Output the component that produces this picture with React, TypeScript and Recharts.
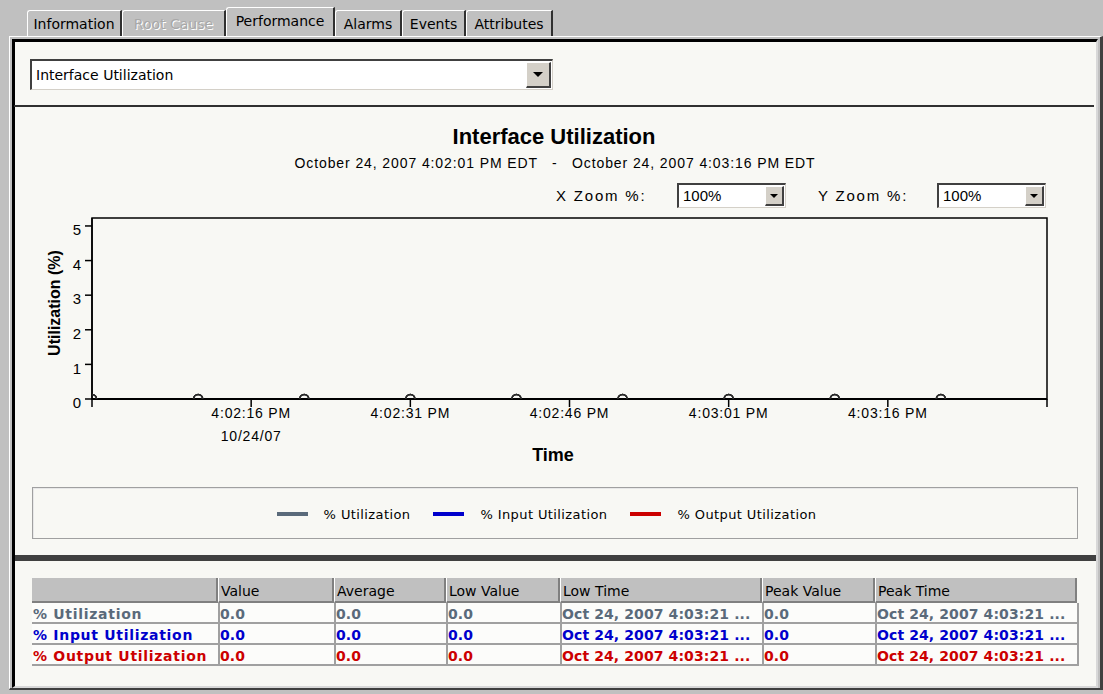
import React from "react";
import { LineChart, Line, XAxis, YAxis, ReferenceArea } from "recharts";

// ---------- data ----------
const sampleTimes = ["16:02:01", "16:02:11", "16:02:21", "16:02:31", "16:02:41", "16:02:51", "16:03:01", "16:03:11", "16:03:21"];
const utilization = [0, 0, 0, 0, 0, 0, 0, 0, 0];
const inputUtilization = [0, 0, 0, 0, 0, 0, 0, 0, 0];
const outputUtilization = [0, 0, 0, 0, 0, 0, 0, 0, 0];

const seriesNames = ["% Utilization", "% Input Utilization", "% Output Utilization"];
const seriesKeys = ["util", "inp", "out"];
const seriesColors = ["#5a6a7a", "#0000cc", "#cc0000"];

const xTickTimes = ["16:02:01", "16:02:16", "16:02:31", "16:02:46", "16:03:01", "16:03:16", "16:03:31"];
const xTickLabels = ["", "4:02:16 PM", "4:02:31 PM", "4:02:46 PM", "4:03:01 PM", "4:03:16 PM", ""];
const xTickSubLabels = ["", "10/24/07", "", "", "", "", ""];
const yTicks = [0, 1, 2, 3, 4, 5];
const yMax = 5.23;

const chartTitle = "Interface Utilization";
const chartSubtitle = "October 24, 2007 4:02:01 PM EDT   -   October 24, 2007 4:03:16 PM EDT";
const xAxisTitle = "Time";
const yAxisTitle = "Utilization (%)";

const tabLabels = ["Information", "Root Cause", "Performance", "Alarms", "Events", "Attributes"];
const selectedTab = "Performance";
const disabledTab = "Root Cause";
const metricChoice = "Interface Utilization";
const zoomLabels = ["X Zoom %:", "Y Zoom %:"];
const zoomValues = ["100%", "100%"];

const tableColumns = ["", "Value", "Average", "Low Value", "Low Time", "Peak Value", "Peak Time"];
const currentValues = ["0.0", "0.0", "0.0"];
const averageValues = ["0.0", "0.0", "0.0"];
const lowValues = ["0.0", "0.0", "0.0"];
const lowTimes = ["Oct 24, 2007 4:03:21 ...", "Oct 24, 2007 4:03:21 ...", "Oct 24, 2007 4:03:21 ..."];
const peakValues = ["0.0", "0.0", "0.0"];
const peakTimes = ["Oct 24, 2007 4:03:21 ...", "Oct 24, 2007 4:03:21 ...", "Oct 24, 2007 4:03:21 ..."];

// ---------- helpers ----------
const toSec = (t: string) => {
  const [h, m, s] = t.split(":").map(Number);
  return h * 3600 + m * 60 + s;
};
const t0 = toSec(xTickTimes[0]);
const xTicks = xTickTimes.map((t) => toSec(t) - t0);
const seriesValues = [utilization, inputUtilization, outputUtilization];
const data = sampleTimes.map((t, i) => {
  const row: any = { t: toSec(t) - t0 };
  seriesKeys.forEach((k, s) => (row[k] = seriesValues[s][i]));
  return row;
});

const UI_FONT = '"DejaVu Sans", Verdana, sans-serif';
const CHART_FONT = '"Liberation Sans", Arial, sans-serif';
const PANEL_BG = "#f8f8f4";
const GRAY = "#c0c0c0";

// layout constants
const tabEdges = [27, 122, 226, 335, 402, 466, 553];
const colWidths = [186, 116, 112, 114, 202, 113, 202];

const XTick = (props: any) => {
  const { x, y, payload } = props;
  const i = xTicks.indexOf(payload.value);
  if (i < 0) return <g />;
  return (
    <g>
      <text x={x} y={y} dy="0.72em" textAnchor="middle" fontFamily={CHART_FONT} fontSize={14} letterSpacing={0.8} fill="#000">
        {xTickLabels[i]}
      </text>
      {xTickSubLabels[i] ? (
        <text x={x} y={y + 23} dy="0.72em" textAnchor="middle" fontFamily={CHART_FONT} fontSize={14} letterSpacing={0.8} fill="#000">
          {xTickSubLabels[i]}
        </text>
      ) : null}
    </g>
  );
};

const YTick = (props: any) => {
  const { x, y, payload } = props;
  return (
    <text x={x - 2} y={y} dy="0.62em" textAnchor="end" fontFamily={CHART_FONT} fontSize={15} fill="#000">
      {payload.value}
    </text>
  );
};

const SelectBox = ({ left, top, width, height, text, fontSize, fontFamily, btn, tri }: any) => (
  <div
    style={{
      position: "absolute",
      left,
      top,
      width,
      height,
      boxSizing: "border-box",
      background: "#fff",
      borderTop: "2px solid #404040",
      borderLeft: "2px solid #404040",
      borderRight: "1px solid #d4d0c8",
      borderBottom: "1px solid #d4d0c8",
    }}
  >
    <div style={{ position: "absolute", left: 4, top: 0, height: height - 3, lineHeight: `${height - 3}px`, fontSize, fontFamily, color: "#000", whiteSpace: "nowrap" }}>
      {text}
    </div>
    <div
      style={{
        position: "absolute",
        right: 1,
        top: 1,
        width: btn,
        height: height - 5,
        boxSizing: "border-box",
        background: "#d4d0c8",
        borderTop: "1px solid #fff",
        borderLeft: "1px solid #fff",
        borderRight: "2px solid #404040",
        borderBottom: "2px solid #404040",
      }}
    >
      <div
        style={{
          position: "absolute",
          left: "50%",
          top: "50%",
          marginLeft: -tri,
          marginTop: -tri / 2,
          width: 0,
          height: 0,
          borderLeft: `${tri}px solid transparent`,
          borderRight: `${tri}px solid transparent`,
          borderTop: `${tri}px solid #000`,
        }}
      />
    </div>
  </div>
);

const ClippedDot = (props: any) => {
  const { cx, cy, index, stroke } = props;
  if (cx == null || cy == null) return <g />;
  const r = 4.5;
  const id = `dotclip-${props.dataKey}-${index}`;
  return (
    <g>
      <defs>
        <clipPath id={id}>
          <rect x={index === 0 ? cx : cx - r - 2} y={cy - r - 2} width={index === 0 ? r + 2 : 2 * r + 4} height={r + 2} />
        </clipPath>
      </defs>
      <circle cx={cx} cy={cy} r={r} fill="none" stroke={stroke} strokeWidth={1.6} clipPath={`url(#${id})`} />
    </g>
  );
};

export default function App() {
  const colLefts: number[] = [];
  colWidths.reduce((acc, w) => {
    colLefts.push(acc);
    return acc + w;
  }, 32);
  const rows = seriesNames.map((n, i) => [n, currentValues[i], averageValues[i], lowValues[i], lowTimes[i], peakValues[i], peakTimes[i]]);

  return (
    <div style={{ position: "absolute", left: 0, top: 0, width: 1103, height: 694, background: GRAY, overflow: "hidden", fontFamily: UI_FONT }}>
      {/* tabs */}
      {tabLabels.map((label, i) => {
        const sel = label === selectedTab;
        const dis = label === disabledTab;
        return (
          <div
            key={label}
            style={{
              position: "absolute",
              left: tabEdges[i],
              top: sel ? 7 : 10,
              width: tabEdges[i + 1] - tabEdges[i],
              height: sel ? 31 : 28,
              boxSizing: "border-box",
              background: GRAY,
              borderTop: "1px solid #fff",
              borderLeft: "1px solid #fff",
              borderRight: "2px solid #303030",
              borderTopLeftRadius: 3,
              textAlign: "center",
              lineHeight: "27px",
              fontSize: 14,
              color: dis ? "#a8a8a8" : "#000",
              textShadow: dis ? "1px 1px 0 #fff" : "none",
              whiteSpace: "nowrap",
            }}
          >
            {label}
          </div>
        );
      })}

      {/* panel frame */}
      <div style={{ position: "absolute", left: 9, top: 36, width: 1094, height: 654, boxSizing: "border-box", borderTop: "1px solid #fff", borderLeft: "1px solid #fff", borderRight: "3px solid #404040", borderBottom: "2px solid #404040", background: GRAY }} />
      <div style={{ position: "absolute", left: 12, top: 39, width: 1086, height: 649, boxSizing: "border-box", borderTop: "3px solid #000", borderLeft: "3px solid #000", borderRight: "2px solid #d8d8d8", borderBottom: "2px solid #d8d8d8", background: PANEL_BG }} />

      {/* metric dropdown */}
      <SelectBox left={30} top={59} width={523} height={31} text={metricChoice} fontSize={14} fontFamily={UI_FONT} btn={25} tri={5} />
      <div style={{ position: "absolute", left: 14, top: 105, width: 1080, height: 2, background: "#303030" }} />

      {/* title */}
      <div style={{ position: "absolute", left: 0, width: 1108, top: 123, height: 28, lineHeight: "28px", textAlign: "center", fontFamily: CHART_FONT, fontWeight: "bold", fontSize: 22, color: "#000" }}>{chartTitle}</div>
      <div style={{ position: "absolute", left: 0, width: 1110, top: 154, height: 18, lineHeight: "18px", textAlign: "center", fontFamily: CHART_FONT, fontSize: 14, letterSpacing: 0.9, whiteSpace: "pre", color: "#000" }}>{chartSubtitle}</div>

      {/* zoom controls */}
      <div style={{ position: "absolute", left: 556, top: 186, lineHeight: "20px", fontFamily: CHART_FONT, fontSize: 15, letterSpacing: 1.8, whiteSpace: "pre", color: "#000" }}>{zoomLabels[0]}</div>
      <SelectBox left={677} top={183} width={109} height={25} text={zoomValues[0]} fontSize={15} fontFamily={CHART_FONT} btn={19} tri={4} />
      <div style={{ position: "absolute", left: 818, top: 186, lineHeight: "20px", fontFamily: CHART_FONT, fontSize: 15, letterSpacing: 1.8, whiteSpace: "pre", color: "#000" }}>{zoomLabels[1]}</div>
      <SelectBox left={937} top={183} width={109} height={25} text={zoomValues[1]} fontSize={15} fontFamily={CHART_FONT} btn={19} tri={4} />

      {/* chart */}
      <div style={{ position: "absolute", left: 0, top: 0 }}>
        <LineChart width={1103} height={694} data={data} margin={{ top: 218, right: 56, bottom: 235, left: 12 }}>
          <XAxis
            dataKey="t"
            type="number"
            domain={[xTicks[0], xTicks[xTicks.length - 1]]}
            ticks={xTicks}
            interval={0}
            height={60}
            tickSize={8}
            tickMargin={1}
            tick={(p: any) => <XTick {...p} />}
            axisLine={{ stroke: "#000", strokeWidth: 2 }}
            tickLine={{ stroke: "#000", strokeWidth: 1.5 }}
            allowDataOverflow
          />
          <YAxis
            type="number"
            domain={[0, yMax]}
            ticks={yTicks}
            interval={0}
            width={80}
            tickSize={7}
            tickMargin={2}
            tick={(p: any) => <YTick {...p} />}
            axisLine={{ stroke: "#000", strokeWidth: 1.5 }}
            tickLine={{ stroke: "#000", strokeWidth: 1.5 }}
            allowDataOverflow
          />
          <ReferenceArea x1={xTicks[0]} x2={xTicks[xTicks.length - 1]} y1={0} y2={yMax} fill="none" stroke="#000" strokeWidth={1.5} fillOpacity={0} ifOverflow="visible" />
          {[2, 1, 0].map((s) => (
            <Line
              key={seriesKeys[s]}
              dataKey={seriesKeys[s]}
              name={seriesNames[s]}
              type="linear"
              stroke={seriesColors[s]}
              strokeWidth={1}
              dot={(p: any) => <ClippedDot key={`${seriesKeys[s]}-${p.index}`} {...p} stroke="#2a2a2a" />}
              activeDot={false}
              isAnimationActive={false}
            />
          ))}
        </LineChart>
      </div>

      {/* axis titles */}
      <div style={{ position: "absolute", left: 0, width: 1106, top: 444, height: 22, lineHeight: "22px", textAlign: "center", fontFamily: CHART_FONT, fontWeight: "bold", fontSize: 18, color: "#000" }}>{xAxisTitle}</div>
      <div style={{ position: "absolute", left: 55, top: 303, width: 0, height: 0 }}>
        <div style={{ position: "absolute", left: -80, top: -11, width: 160, height: 22, lineHeight: "22px", textAlign: "center", transform: "rotate(-90deg)", fontFamily: CHART_FONT, fontWeight: "bold", fontSize: 16, color: "#000", whiteSpace: "nowrap" }}>{yAxisTitle}</div>
      </div>

      {/* legend */}
      <div style={{ position: "absolute", left: 32, top: 487, width: 1046, height: 52, boxSizing: "border-box", border: "1px solid #a0a0a0", boxShadow: "inset 1px 1px 0 #e8e8e8", display: "flex", alignItems: "center", justifyContent: "center", paddingRight: 17, paddingTop: 2 }}>
        {seriesNames.map((n, i) => (
          <div key={n} style={{ display: "flex", alignItems: "center", marginRight: i < seriesNames.length - 1 ? 23 : 0 }}>
            <div style={{ width: 31, height: 4, background: seriesColors[i], marginRight: 16 }} />
            <span style={{ fontFamily: UI_FONT, fontSize: 13, letterSpacing: 0.4, color: "#000" }}>{n}</span>
          </div>
        ))}
      </div>

      {/* separator bar */}
      <div style={{ position: "absolute", left: 15, top: 555, width: 1081, height: 6, background: "#404040" }} />

      {/* statistics table */}
      {tableColumns.map((c, j) => (
        <div
          key={"h" + j}
          style={{
            position: "absolute",
            left: colLefts[j],
            top: 578,
            width: colWidths[j],
            height: 25,
            boxSizing: "border-box",
            background: GRAY,
            borderLeft: j > 0 ? "1px solid #fff" : "none",
            borderRight: "2px solid #808080",
            borderBottom: "2px solid #808080",
            paddingLeft: 2,
            paddingTop: 2,
            lineHeight: "23px",
            fontFamily: UI_FONT,
            fontSize: 14,
            color: "#000",
            whiteSpace: "nowrap",
          }}
        >
          {c}
        </div>
      ))}
      {rows.map((r, i) =>
        r.map((cell, j) => (
          <div
            key={"c" + i + "-" + j}
            style={{
              position: "absolute",
              left: colLefts[j],
              top: 603 + i * 21,
              width: colWidths[j] + (j === colWidths.length - 1 ? 2 : 0),
              height: 21,
              boxSizing: "border-box",
              background: "#fcfcfa",
              borderLeft: j > 0 ? "2px solid #a0a0a0" : "none",
              borderRight: j === colWidths.length - 1 ? "2px solid #a0a0a0" : "none",
              borderBottom: "2px solid #a0a0a0",
              paddingLeft: j === 0 ? 1 : 0,
              paddingTop: 2,
              lineHeight: "19px",
              fontFamily: UI_FONT,
              fontWeight: "bold",
              fontSize: 14,
              letterSpacing: j === 0 ? 0.7 : 0.1,
              color: seriesColors[i],
              whiteSpace: "nowrap",
              overflow: "hidden",
            }}
          >
            {cell}
          </div>
        ))
      )}
    </div>
  );
}
